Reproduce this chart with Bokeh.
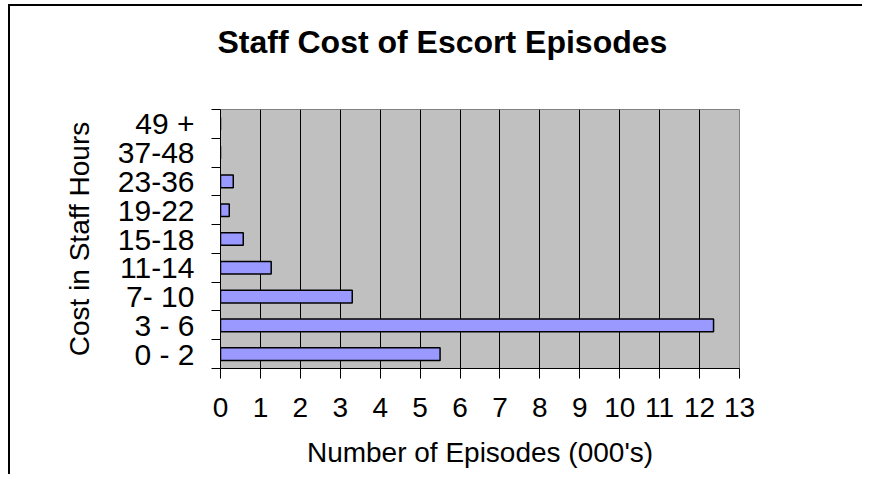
from bokeh.plotting import figure
from bokeh.models import FixedTicker, Title
from bokeh.embed import file_html
from bokeh.resources import INLINE

categories = ["0 - 2", "3 - 6", "7- 10", "11-14", "15-18", "19-22", "23-36", "37-48", "49 +"]
episodes = [5.5, 12.35, 3.3, 1.27, 0.57, 0.22, 0.32, 0.0, 0.0]
x_ticks = list(range(14))

centers = [i + 0.5 for i in range(len(categories))]
boundaries = list(range(len(categories) + 1))

FONT = "Liberation Sans"

p = figure(width=854, height=470,
           x_range=(0, 13), y_range=(0, len(categories)),
           output_backend="svg", toolbar_location=None,
           min_border_left=210, min_border_top=0, min_border_right=125, min_border_bottom=108)
p.styles = {"margin-left": "8px", "margin-top": "4px",
            "border-top": "2px solid black", "border-left": "2px solid black"}

p.background_fill_color = "#c0c0c0"
p.border_fill_color = "white"
p.outline_line_color = "#808080"
p.outline_line_width = 1

# spacer between title and plot area (closest to frame), then the title above it
spacer = Title(text=" ", text_font_size="1px", standoff=32)
p.add_layout(spacer, "above")
t = Title(text="Staff Cost of Escort Episodes", align="left", offset=-3,
          text_font=FONT, text_font_size="32px", text_font_style="bold",
          text_color="black", standoff=30)
p.add_layout(t, "above")

p.hbar(y=centers, right=episodes, left=0, height=0.44,
       fill_color="#9999ff", line_color="black", line_width=1.5)

xa = p.xaxis[0]
xa.ticker = FixedTicker(ticks=x_ticks)
xa.major_tick_in = 0
xa.major_tick_out = 10
xa.minor_tick_out = 0
xa.axis_line_color = "black"
xa.major_tick_line_color = "black"
xa.major_label_text_font = FONT
xa.major_label_text_font_size = "28px"
xa.major_label_text_color = "black"
xa.major_label_standoff = 19
xa.axis_label = "Number of Episodes (000's)"
xa.axis_label_text_font = FONT
xa.axis_label_text_font_size = "28px"
xa.axis_label_text_font_style = "normal"
xa.axis_label_text_color = "black"
xa.axis_label_standoff = 17

ya = p.yaxis[0]
ya.ticker = FixedTicker(ticks=centers, minor_ticks=boundaries)
ya.major_label_overrides = {c: lab for c, lab in zip(centers, categories)}
ya.major_tick_in = 0
ya.major_tick_out = 0
ya.minor_tick_in = 0
ya.minor_tick_out = 9
ya.minor_tick_line_color = "black"
ya.axis_line_color = "black"
ya.major_label_text_font = FONT
ya.major_label_text_font_size = "30px"
ya.major_label_text_color = "black"
ya.major_label_standoff = 17
ya.axis_label = "Cost in Staff Hours"
ya.axis_label_text_font = FONT
ya.axis_label_text_font_size = "28px"
ya.axis_label_text_font_style = "normal"
ya.axis_label_text_color = "black"
ya.axis_label_standoff = 20

p.xgrid.ticker = FixedTicker(ticks=x_ticks)
p.xgrid.grid_line_color = "black"
p.xgrid.grid_line_width = 1
p.ygrid.grid_line_color = None

open("out.html", "w").write(file_html(p, INLINE))
